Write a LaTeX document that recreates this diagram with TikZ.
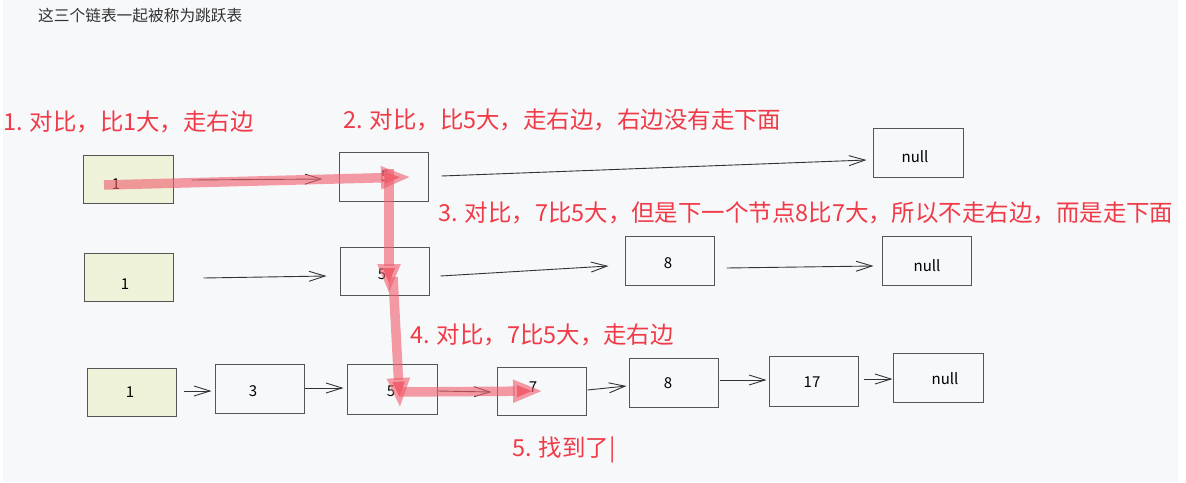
\documentclass[tikz,border=0pt]{standalone}
\usepackage{fontspec}
\setmainfont{Noto Sans CJK SC}
\usetikzlibrary{arrows.meta}
\definecolor{bg}{HTML}{F7F8FA}
\definecolor{boxgreen}{HTML}{EEF2D9}
\definecolor{edge}{HTML}{555555}
\definecolor{ink}{HTML}{333333}
\definecolor{redtext}{HTML}{F03A47}
\definecolor{redarrow}{HTML}{F0606E}
\tikzset{
  box/.style={draw=edge, line width=1pt, minimum width=89pt, minimum height=48pt, inner sep=0pt},
  headbox/.style={box, fill=boxgreen},
  val/.style={inner sep=0pt, text=black, font=\fontsize{15}{17}\selectfont},
  arr/.style={draw=ink, line width=0.9pt, -{Straight Barb[length=16pt,width=10pt,line width=0.9pt]}},
  redlabel/.style={anchor=west, inner sep=0pt, text=redtext, font=\fontsize{23.45}{26}\selectfont},
  path/.style={draw=redarrow, draw opacity=0.62, line width=9.5pt, -{Triangle[length=30pt,width=21pt]}}
}
\begin{document}
\begin{tikzpicture}[x=1pt,y=-1pt]
\useasboundingbox (0,0) rectangle (1186,482);
\fill[white] (0,0) rectangle (1186,482);
\fill[bg] (3,0) rectangle (1178,482);

\node[anchor=west, inner sep=0pt, text=ink, font=\fontsize{15.7}{17}\selectfont] (title) at (38,16) {这三个链表一起被称为跳跃表};

% row 1
\node[headbox, minimum width=90pt] (r1a) at (128,179) {};
\node[box, minimum height=49pt] (r1b) at (383.5,176.5) {};
\node[box, minimum width=90pt, minimum height=49pt] (r1n) at (918,152.5) {};
\node[val] (t1a) at (116,184) {1};
\node[val] (t1b) at (385,176) {5};
\node[val] (t1n) at (915,157) {null};
\draw[arr] ([shift={(18,1)}]r1a.east) -- ([shift={(-16,2.5)}]r1b.west);
\draw[arr] ([shift={(13,-0.5)}]r1b.east) -- ([shift={(-6,7.5)}]r1n.west);

% row 2
\node[headbox] (r2a) at (128.5,277) {};
\node[box] (r2b) at (384.5,271) {};
\node[box, minimum height=49pt] (r2c) at (669.5,260.5) {};
\node[box, minimum height=49pt] (r2n) at (926.5,260.5) {};
\node[val] (t2a) at (125,284) {1};
\node[val] (t2b) at (382,274) {5};
\node[val] (t2c) at (668,263) {8};
\node[val] (t2n) at (927,266) {null};
\draw[arr] ([shift={(30,1)}]r2a.east) -- ([shift={(-13,5)}]r2b.west);
\draw[arr] ([shift={(11,5)}]r2b.east) -- ([shift={(-16,5.5)}]r2c.west);
\draw[arr] ([shift={(12,7.5)}]r2c.east) -- ([shift={(-8,5.5)}]r2n.west);

% row 3
\node[headbox] (r3a) at (131.5,392) {};
\node[box, minimum height=49pt] (r3b) at (259.5,388.5) {};
\node[box, minimum width=90pt, minimum height=50pt] (r3c) at (392,389) {};
\node[box] (r3d) at (541.5,391) {};
\node[box, minimum height=49pt] (r3e) at (673.5,382.5) {};
\node[box, minimum height=50pt] (r3f) at (813.5,381) {};
\node[box, minimum width=90pt, minimum height=49pt] (r3n) at (938,377.5) {};
\node[val] (t3a) at (130,392) {1};
\node[val] (t3b) at (253,391) {3};
\node[val] (t3c) at (391,391) {5};
\node[val] (t3d) at (533,387) {7};
\node[val] (t3e) at (668,383) {8};
\node[val] (t3f) at (812,382) {17};
\node[val] (t3n) at (945,379) {null};
\draw[arr] ([shift={(7,-1)}]r3a.east) -- ([shift={(-3,2.5)}]r3b.west);
\draw[arr] ([shift={(0,-0.5)}]r3b.east) -- ([shift={(-3,-1)}]r3c.west);
\draw[arr] ([shift={(0,2)}]r3c.east) -- ([shift={(-5,1)}]r3d.west);
\draw[arr] ([shift={(1,-1)}]r3d.east) -- ([shift={(-2,3.5)}]r3e.west);
\draw[arr] ([shift={(1,-2.5)}]r3e.east) -- ([shift={(-2,-1)}]r3f.west);
\draw[arr] ([shift={(5,-2)}]r3f.east) -- ([shift={(0,1.5)}]r3n.west);

% red labels
\node[redlabel] (l1) at (3,122) {1. 对比，比1大，走右边};
\node[redlabel] (l2) at (343,120) {2. 对比，比5大，走右边，右边没有走下面};
\node[redlabel] (l3) at (438,213) {3. 对比，7比5大，但是下一个节点8比7大，所以不走右边，而是走下面};
\node[redlabel] (l4) at (410,335) {4. 对比，7比5大，走右边};
\node[redlabel] (l5) at (512,450) {5. 找到了|};

% red search path
\coordinate (p1s) at (104,185);
\coordinate (p1e) at (411,177);
\coordinate (p2s) at (389,169);
\coordinate (p2e) at (389,294);
\coordinate (p3s) at (393,277);
\coordinate (p3e) at (400,408);
\coordinate (p4s) at (400,392);
\coordinate (p4e) at (543,391);
\draw[path] (p1s) -- (p1e);
\draw[path] (p2s) -- (p2e);
\draw[path] (p3s) -- (p3e);
\draw[path] (p4s) -- (p4e);
\end{tikzpicture}
\end{document}
